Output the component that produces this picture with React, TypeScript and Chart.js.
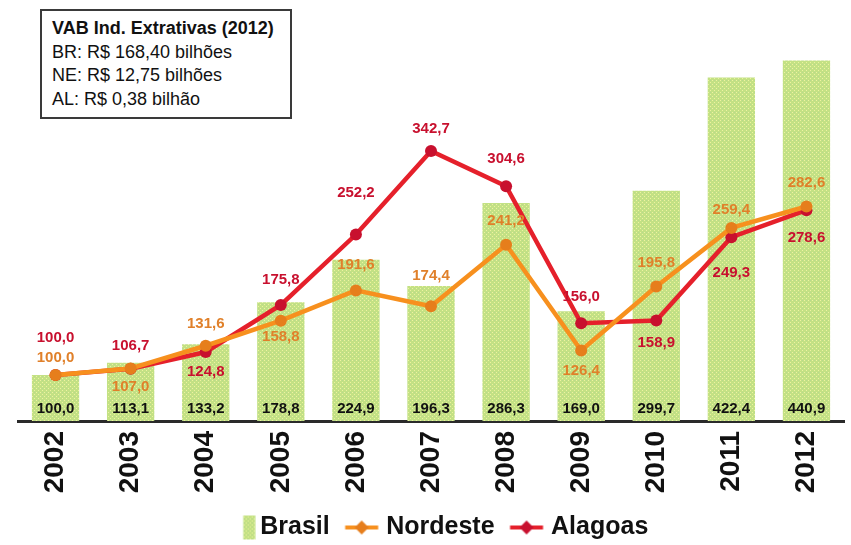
import React, { useEffect, useRef } from "react";
import { Chart, registerables } from "chart.js";

Chart.register(...registerables);

const years = ["2002", "2003", "2004", "2005", "2006", "2007", "2008", "2009", "2010", "2011", "2012"];
const brasil = [100.0, 113.1, 133.2, 178.8, 224.9, 196.3, 286.3, 169.0, 299.7, 422.4, 440.9];
const nordeste = [100.0, 107.0, 131.6, 158.8, 191.6, 174.4, 241.2, 126.4, 195.8, 259.4, 282.6];
const alagoas = [100.0, 106.7, 124.8, 175.8, 252.2, 342.7, 304.6, 156.0, 158.9, 249.3, 278.6];
const seriesNames = ["Brasil", "Nordeste", "Alagoas"];
const infoLines = [
  "VAB Ind. Extrativas (2012)",
  "BR: R$ 168,40 bilhões",
  "NE: R$ 12,75 bilhões",
  "AL: R$ 0,38 bilhão",
];

// label vertical offsets (style only)
const nordesteLabelDy = [-17, 18, -22, 16, -26, -30, -24, 20, -24, -18, -24];
const alagoasLabelDy = [-37, -23, 20, -25, -42, -22, -27, -26, 22, 36, 28];

const FONT = '"Liberation Sans", Arial, Helvetica, sans-serif';
const RED = "#e5202b";
const RED_DARK = "#c8102e";
const ORANGE = "#f7901e";
const ORANGE_DARK = "#e67e1c";
const ORANGE_LABEL = "#e0802a";

const fmt = (v: number) => v.toFixed(1).replace(".", ",");

function makePattern(): CanvasPattern | string {
  const c = document.createElement("canvas");
  c.width = 4;
  c.height = 4;
  const g = c.getContext("2d");
  if (!g) return "#c6e28a";
  g.fillStyle = "#c3e184";
  g.fillRect(0, 0, 4, 4);
  g.fillStyle = "#eef3a0";
  g.fillRect(0, 0, 1, 1);
  g.fillRect(2, 2, 1, 1);
  g.fillStyle = "#b8d890";
  g.fillRect(2, 0, 1, 1);
  const p = g.createPattern(c, "repeat");
  return p || "#c6e28a";
}

function makeBoxIcon(pattern: CanvasPattern | string): HTMLCanvasElement {
  const c = document.createElement("canvas");
  c.width = 50;
  c.height = 26;
  const g = c.getContext("2d")!;
  g.fillStyle = pattern as any;
  g.fillRect(37.5, 1, 12, 24);
  return c;
}

function makeLineIcon(color: string, dark: string): HTMLCanvasElement {
  const c = document.createElement("canvas");
  c.width = 64;
  c.height = 20;
  const g = c.getContext("2d")!;
  g.strokeStyle = color;
  g.lineWidth = 4;
  g.beginPath();
  g.moveTo(20.5, 10);
  g.lineTo(53.5, 10);
  g.stroke();
  g.fillStyle = dark;
  g.beginPath();
  g.moveTo(37, 3);
  g.lineTo(44, 10);
  g.lineTo(37, 17);
  g.lineTo(30, 10);
  g.closePath();
  g.fill();
  return c;
}

const labelPlugin = {
  id: "valueLabels",
  afterDatasetsDraw(chart: any) {
    const ctx = chart.ctx;
    ctx.save();
    ctx.textAlign = "center";
    ctx.textBaseline = "middle";
    ctx.font = `bold 15px ${FONT}`;
    const bottom = chart.chartArea.bottom;
    const barMeta = chart.getDatasetMeta(0);
    barMeta.data.forEach((el: any, i: number) => {
      ctx.fillStyle = "#111111";
      ctx.fillText(fmt(brasil[i]), el.x, bottom - 12);
    });
    const ne = chart.getDatasetMeta(1);
    ne.data.forEach((el: any, i: number) => {
      ctx.fillStyle = ORANGE_LABEL;
      ctx.fillText(fmt(nordeste[i]), el.x, el.y + nordesteLabelDy[i]);
    });
    const al = chart.getDatasetMeta(2);
    al.data.forEach((el: any, i: number) => {
      ctx.fillStyle = RED_DARK;
      ctx.fillText(fmt(alagoas[i]), el.x, el.y + alagoasLabelDy[i]);
    });
    ctx.restore();
  },
};

export default function App() {
  const ref = useRef<HTMLCanvasElement | null>(null);

  useEffect(() => {
    if (!ref.current) return;
    const pattern = makePattern();
    const icons = [
      makeBoxIcon(pattern),
      makeLineIcon(ORANGE, ORANGE_DARK),
      makeLineIcon(RED, RED_DARK),
    ];
    const chart = new Chart(ref.current, {
      type: "bar",
      data: {
        labels: years,
        datasets: [
          {
            type: "bar",
            label: seriesNames[0],
            data: brasil,
            backgroundColor: pattern as any,
            borderWidth: 0,
            categoryPercentage: 1,
            barPercentage: 0.63,
            order: 3,
          },
          {
            type: "line",
            label: seriesNames[1],
            data: nordeste,
            borderColor: ORANGE,
            backgroundColor: ORANGE_DARK,
            borderWidth: 4.5,
            pointRadius: 6,
            pointBackgroundColor: ORANGE_DARK,
            pointBorderColor: ORANGE_DARK,
            pointBorderWidth: 0,
            tension: 0,
            order: 1,
          },
          {
            type: "line",
            label: seriesNames[2],
            data: alagoas,
            borderColor: RED,
            backgroundColor: RED_DARK,
            borderWidth: 4.5,
            pointRadius: 6,
            pointBackgroundColor: RED_DARK,
            pointBorderColor: RED_DARK,
            pointBorderWidth: 0,
            tension: 0,
            order: 2,
          },
        ] as any,
      },
      options: {
        animation: false,
        responsive: false,
        maintainAspectRatio: false,
        layout: { padding: { left: 18, right: 7, top: 4, bottom: -5 } },
        plugins: {
          tooltip: { enabled: false },
          legend: {
            position: "bottom",
            labels: {
              usePointStyle: true,
              pointStyleWidth: 34,
              padding: 10,
              color: "#111111",
              font: { family: FONT, size: 25, weight: "bold" },
              generateLabels: () =>
                seriesNames.map((name, i) => ({
                  text: name,
                  pointStyle: icons[i],
                  fillStyle: "transparent",
                  strokeStyle: "transparent",
                  lineWidth: 0,
                  hidden: false,
                  datasetIndex: i,
                  fontColor: "#111111",
                })) as any,
            },
          },
        },
        scales: {
          x: {
            offset: true,
            grid: { display: false, drawTicks: false },
            border: { display: true, color: "#2a2a2a", width: 3 },
            ticks: {
              minRotation: 90,
              maxRotation: 90,
              padding: 10,
              color: "#111111",
              font: { family: FONT, size: 28, weight: "bold" },
            },
            afterFit: (scale: any) => {
              scale.height = 84;
            },
          },
          y: {
            display: false,
            min: 50,
            max: 500,
          },
        },
      } as any,
      plugins: [labelPlugin],
    });
    return () => chart.destroy();
  }, []);

  return (
    <div
      style={{
        position: "fixed",
        left: 0,
        top: 0,
        width: 851,
        height: 545,
        background: "#ffffff",
      }}
    >
      <canvas ref={ref} width={851} height={545} style={{ display: "block" }} />
      <div
        style={{
          position: "absolute",
          left: 40,
          top: 9,
          width: 252,
          height: 110,
          border: "2px solid #3a3a3a",
          background: "#ffffff",
          fontFamily: FONT,
          fontSize: 18,
          color: "#111111",
          padding: "6px 0 0 10px",
          boxSizing: "border-box",
          lineHeight: "23.5px",
        }}
      >
        {infoLines.map((t, i) => (
          <div key={i} style={{ fontWeight: i === 0 ? "bold" : "normal", whiteSpace: "nowrap" }}>
            {t}
          </div>
        ))}
      </div>
    </div>
  );
}
